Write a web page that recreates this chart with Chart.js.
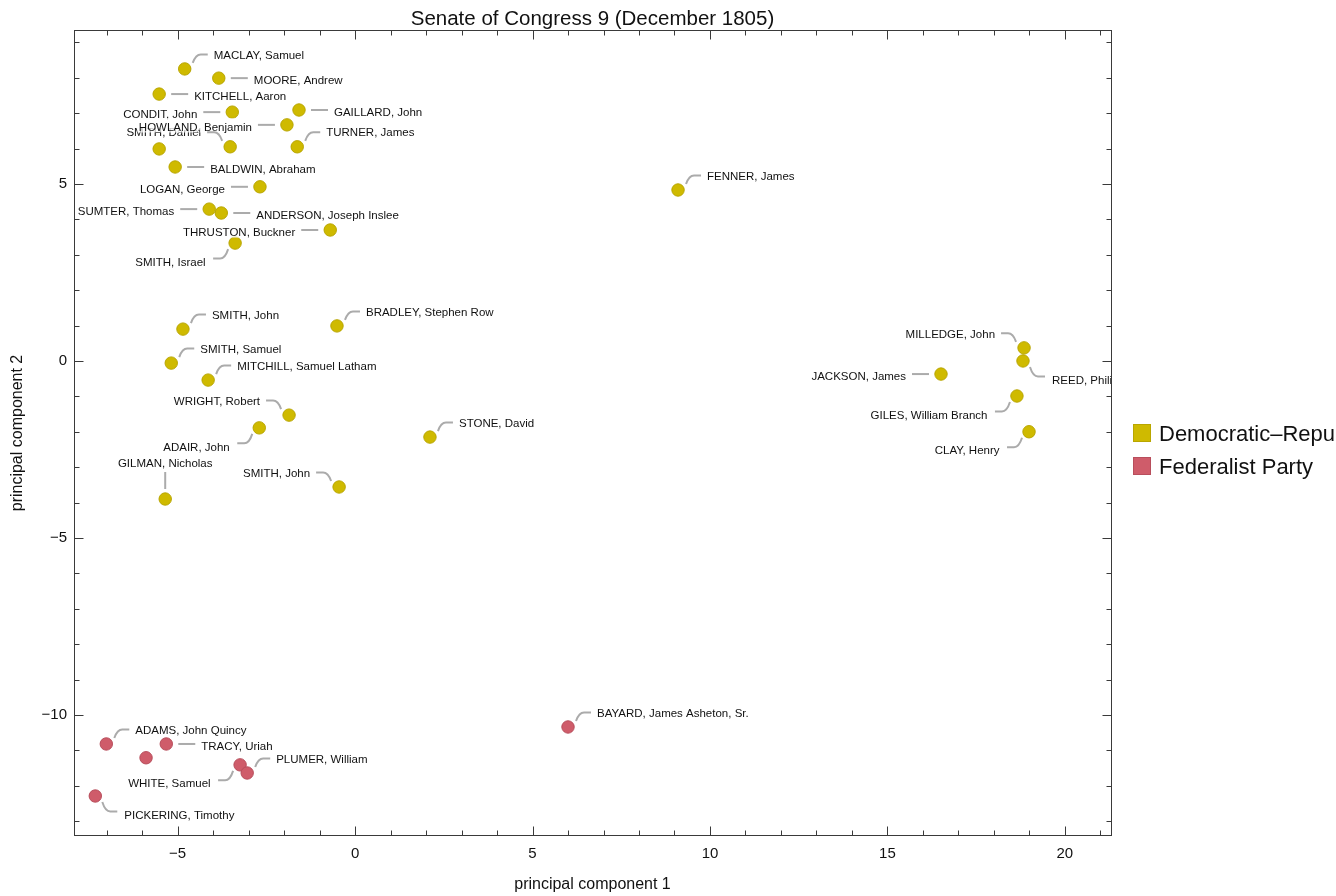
<!DOCTYPE html>
<html>
<head>
<meta charset="utf-8">
<script src="https://cdn.jsdelivr.net/npm/chart.js@4.4.1/dist/chart.umd.min.js"></script>
<style>
html,body{margin:0;padding:0;background:#fff;}
#wrap{width:1336px;height:896px;position:relative;}
</style>
</head>
<body>
<div id="wrap"><canvas id="c" width="1336" height="896"></canvas></div>
<script>
// ---------- text ----------
const titleText = 'Senate of Congress 9 (December 1805)';
const xAxisTitle = 'principal component 1';
const yAxisTitle = 'principal component 2';
const partyNames = ['Democratic\u2013Republican Party', 'Federalist Party'];

// ---------- axes ----------
const xRange = [-7.92, 21.3];
const yRange = [-13.42, 9.35];
const xMajorTicks = [-5, 0, 5, 10, 15, 20];
const yMajorTicks = [-10, -5, 0, 5];

// ---------- Democratic-Republican senators ----------
const demNames = [
  'MACLAY, Samuel', 'MOORE, Andrew', 'KITCHELL, Aaron', 'CONDIT, John', 'GAILLARD, John',
  '', 'SMITH, Daniel', 'HOWLAND, Benjamin', 'TURNER, James', 'BALDWIN, Abraham',
  'LOGAN, George', 'SUMTER, Thomas', 'ANDERSON, Joseph Inslee', 'THRUSTON, Buckner', 'SMITH, Israel',
  'SMITH, John', 'BRADLEY, Stephen Row', 'SMITH, Samuel', 'MITCHILL, Samuel Latham', 'WRIGHT, Robert',
  'ADAIR, John', 'STONE, David', 'SMITH, John', 'GILMAN, Nicholas', 'FENNER, James',
  'MILLEDGE, John', 'REED, Philip', 'JACKSON, James', 'GILES, William Branch', 'CLAY, Henry'
];
const demX = [
  -4.80, -3.84, -5.52, -3.46, -1.58,
  -5.52, -3.52, -1.92, -1.63, -5.07,
  -2.68, -4.11, -3.77, -0.70, -3.38,
  -4.85, -0.51, -5.18, -4.14, -1.86,
  -2.70, 2.11, -0.45, -5.35, 9.10,
  18.85, 18.82, 16.51, 18.65, 18.99
];
const demY = [
  8.25, 7.99, 7.54, 7.03, 7.09,
  5.99, 6.05, 6.67, 6.05, 5.48,
  4.92, 4.29, 4.18, 3.70, 3.33,
  0.90, 0.99, -0.06, -0.54, -1.53,
  -1.89, -2.15, -3.56, -3.90, 4.83,
  0.37, 0.00, -0.37, -0.99, -2.00
];
const demCallout = [
  'ur', 'r', 'r', 'l', 'r',
  '', 'ul', 'l', 'ur', 'r',
  'l', 'l', 'r', 'l', 'dl',
  'ur', 'ur', 'ur', 'ur', 'ul',
  'dl', 'ur', 'ul', 'u', 'ur',
  'ul', 'dr', 'l', 'dl', 'dl'
];

// ---------- Federalist senators ----------
const fedNames = [
  'ADAMS, John Quincy', 'TRACY, Uriah', '', 'WHITE, Samuel', 'PLUMER, William',
  'PICKERING, Timothy', 'BAYARD, James Asheton, Sr.'
];
const fedX = [-7.01, -5.32, -5.89, -3.24, -3.04, -7.32, 6.00];
const fedY = [-10.82, -10.82, -11.21, -11.41, -11.64, -12.29, -10.34];
const fedCallout = ['ur', 'r', '', 'dl', 'ur', 'dr', 'ur'];

// ---------- styles ----------
const FONT = '"Liberation Sans", Arial, Helvetica, sans-serif';
const demColor = '#CFBA00', demEdge = '#B9A600';
const fedColor = '#CF5C6A', fedEdge = '#B84E5C';
const frameColor = '#3a3a3a';
const textColor = '#111';
const leaderColor = '#ababab';

function fmt(v) {
  const r = Math.round(v);
  return r < 0 ? '\u2212' + Math.abs(r) : String(r);
}

const toPts = (xs, ys) => xs.map((x, i) => ({ x: x, y: ys[i] }));

// callout geometry (pixel offsets relative to the marker centre)
const CALLOUT = {
  r:  { tx: 35, ty: 2, align: 'left', line: [[12, 0], [29, 0]] },
  l:  { tx: -35, ty: 2, align: 'right', line: [[-12, 0], [-29, 0]] },
  ur: { tx: 29, ty: -14.5, align: 'left', curve: [[8, -6], [11, -14.5], [16, -14.5], [23, -14.5]] },
  ul: { tx: -29, ty: -14.5, align: 'right', curve: [[-8, -6], [-11, -14.5], [-16, -14.5], [-23, -14.5]] },
  dr: { tx: 29, ty: 18.5, align: 'left', curve: [[7, 6], [10, 15.5], [15, 15.5], [22, 15.5]] },
  dl: { tx: -29.5, ty: 18.5, align: 'right', curve: [[-7, 6], [-10, 15.5], [-15, 15.5], [-22, 15.5]] },
  u:  { tx: 0, ty: -36, align: 'center', line: [[0, -10], [0, -27]] }
};

const decor = {
  id: 'decor',
  beforeDraw(chart) {
    const ctx = chart.ctx;
    ctx.save();
    ctx.fillStyle = '#fff';
    ctx.fillRect(0, 0, chart.width, chart.height);
    ctx.restore();
  },
  afterDatasetsDraw(chart) {
    const ctx = chart.ctx;
    const ca = chart.chartArea;
    const fs = 11.5;
    const items = [];
    chart.data.datasets.forEach((ds, di) => {
      const meta = chart.getDatasetMeta(di);
      ds.names.forEach((n, i) => {
        if (!n) return;
        const el = meta.data[i];
        items.push({ n: n, g: CALLOUT[ds.callout[i]], px: el.x, py: el.y });
      });
    });
    ctx.save();
    ctx.beginPath();
    ctx.rect(ca.left, ca.top, ca.right - ca.left, ca.bottom - ca.top);
    ctx.clip();
    ctx.font = fs + 'px ' + FONT;
    ctx.textBaseline = 'alphabetic';
    // labels with translucent backgrounds
    items.forEach(it => {
      const g = it.g;
      const w = ctx.measureText(it.n).width;
      const ax = it.px + g.tx;
      const base = it.py + g.ty + 0.36 * fs;
      let x0 = ax;
      if (g.align === 'right') x0 = ax - w;
      else if (g.align === 'center') x0 = ax - w / 2;
      ctx.fillStyle = 'rgba(255,255,255,0.72)';
      ctx.fillRect(x0 - 1.5, base - 12.8, w + 3, 14.3);
      ctx.fillStyle = textColor;
      ctx.textAlign = 'left';
      ctx.fillText(it.n, x0, base);
    });
    // leader lines
    ctx.strokeStyle = leaderColor;
    ctx.lineWidth = 2;
    ctx.lineCap = 'butt';
    ctx.lineJoin = 'round';
    items.forEach(it => {
      const g = it.g, px = it.px, py = it.py;
      ctx.beginPath();
      if (g.line) {
        ctx.moveTo(px + g.line[0][0], py + g.line[0][1]);
        ctx.lineTo(px + g.line[1][0], py + g.line[1][1]);
      } else {
        const c = g.curve;
        ctx.moveTo(px + c[0][0], py + c[0][1]);
        ctx.quadraticCurveTo(px + c[1][0], py + c[1][1], px + c[2][0], py + c[2][1]);
        ctx.lineTo(px + c[3][0], py + c[3][1]);
      }
      ctx.stroke();
    });
    ctx.restore();
  },
  afterDraw(chart) {
    const ctx = chart.ctx;
    const { left, right, top, bottom } = chart.chartArea;
    const xs = chart.scales.x, ys = chart.scales.y;
    ctx.save();
    // frame
    ctx.strokeStyle = frameColor;
    ctx.lineWidth = 1;
    const L = Math.round(left) + 0.5, R = Math.round(right) + 0.5;
    const T = Math.round(top) + 0.5, B = Math.round(bottom) - 0.5;
    ctx.strokeRect(L, T, R - L, B - T);
    // inward ticks
    ctx.beginPath();
    for (let v = Math.ceil(xs.min); v <= Math.floor(xs.max); v++) {
      const p = Math.round(xs.getPixelForValue(v)) + 0.5;
      const len = (v % 5 === 0) ? 9 : 5;
      ctx.moveTo(p, B); ctx.lineTo(p, B - len);
      ctx.moveTo(p, T); ctx.lineTo(p, T + len);
    }
    for (let v = Math.ceil(ys.min); v <= Math.floor(ys.max); v++) {
      const p = Math.round(ys.getPixelForValue(v)) + 0.5;
      const len = (v % 5 === 0) ? 9 : 5;
      ctx.moveTo(L, p); ctx.lineTo(L + len, p);
      ctx.moveTo(R, p); ctx.lineTo(R - len, p);
    }
    ctx.stroke();
    // title
    ctx.fillStyle = textColor;
    ctx.font = '20.5px ' + FONT;
    ctx.textAlign = 'center';
    ctx.textBaseline = 'alphabetic';
    ctx.fillText(titleText, (left + right) / 2, 24.5);
    // legend
    const lx = 1133, sw = 18;
    const rows = [433, 466];
    const cols = [[demColor, demEdge], [fedColor, fedEdge]];
    ctx.font = '22px ' + FONT;
    ctx.textAlign = 'left';
    rows.forEach((cy, i) => {
      ctx.fillStyle = cols[i][0];
      ctx.fillRect(lx, cy - sw / 2, sw, sw);
      ctx.strokeStyle = cols[i][1];
      ctx.lineWidth = 1;
      ctx.strokeRect(lx + 0.5, cy - sw / 2 + 0.5, sw - 1, sw - 1);
      ctx.fillStyle = textColor;
      ctx.fillText(partyNames[i], 1159, cy + 0.36 * 22);
    });
    ctx.restore();
  }
};

const cfg = {
  type: 'scatter',
  data: {
    datasets: [
      {
        label: partyNames[0],
        data: toPts(demX, demY),
        names: demNames,
        callout: demCallout,
        backgroundColor: demColor,
        borderColor: demEdge,
        borderWidth: 1,
        pointRadius: 6.2,
        pointHoverRadius: 6.2
      },
      {
        label: partyNames[1],
        data: toPts(fedX, fedY),
        names: fedNames,
        callout: fedCallout,
        backgroundColor: fedColor,
        borderColor: fedEdge,
        borderWidth: 1,
        pointRadius: 6.2,
        pointHoverRadius: 6.2
      }
    ]
  },
  options: {
    responsive: false,
    animation: false,
    devicePixelRatio: 1,
    events: [],
    layout: { padding: { top: 30, right: 225, left: 0, bottom: 0 } },
    plugins: {
      legend: { display: false },
      tooltip: { enabled: false },
      title: { display: false }
    },
    scales: {
      x: {
        type: 'linear',
        min: xRange[0],
        max: xRange[1],
        grid: { display: false, drawTicks: false },
        border: { display: false },
        ticks: {
          stepSize: 5,
          includeBounds: false,
          autoSkip: false,
          maxRotation: 0,
          padding: 9,
          color: textColor,
          font: { family: FONT, size: 15 },
          callback: v => xMajorTicks.includes(Math.round(v)) && Math.abs(v - Math.round(v)) < 1e-6 ? fmt(v) : ''
        },
        title: {
          display: true,
          text: xAxisTitle,
          color: textColor,
          font: { family: FONT, size: 16 },
          padding: { top: 0, bottom: 2 }
        },
        afterFit: s => { s.height = 60; }
      },
      y: {
        type: 'linear',
        min: yRange[0],
        max: yRange[1],
        grid: { display: false, drawTicks: false },
        border: { display: false },
        ticks: {
          stepSize: 5,
          includeBounds: false,
          autoSkip: false,
          padding: 7,
          color: textColor,
          font: { family: FONT, size: 15 },
          callback: v => yMajorTicks.includes(Math.round(v)) && Math.abs(v - Math.round(v)) < 1e-6 ? fmt(v) : ''
        },
        title: {
          display: true,
          text: yAxisTitle,
          color: textColor,
          font: { family: FONT, size: 16 },
          padding: { top: 8, bottom: 0 }
        },
        afterFit: s => { s.width = 74; }
      }
    }
  },
  plugins: [decor]
};

new Chart(document.getElementById('c'), cfg);
</script>
</body>
</html>
